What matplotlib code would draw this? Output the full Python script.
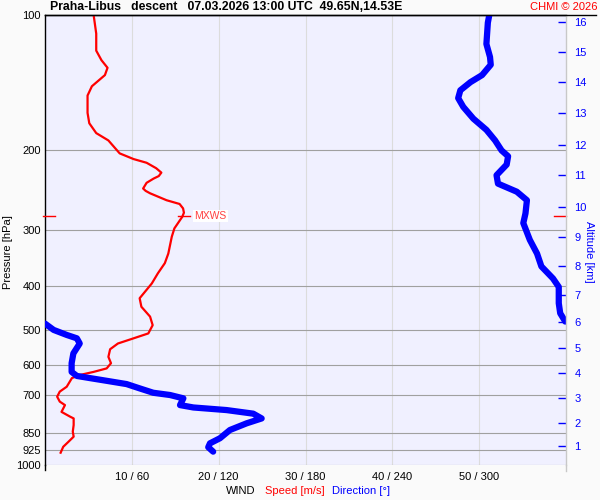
import matplotlib
matplotlib.use("Agg")
import matplotlib.pyplot as plt
from matplotlib.lines import Line2D
import matplotlib.transforms as mtransforms
import numpy as np

plt.rcParams['font.family'] = ['Liberation Sans', 'DejaVu Sans']

# ---- data ----
p_speed = [100, 110, 120, 126, 131, 136, 144, 151, 165, 174, 183, 190, 203, 209, 213,
           219, 224, 228, 231, 236, 243, 246, 249, 258, 263, 269, 275, 281, 298, 311, 339,
           356, 375, 395, 426, 445, 468, 489, 510, 523, 537, 553, 575, 594, 610, 621,
           631, 641, 670, 687, 705, 723, 736, 762, 781, 788, 815, 843, 865, 888, 911, 939]
speed = [5.6, 5.9, 5.9, 6.5, 7.2, 6.9, 5.4, 4.9, 4.9, 5.1, 5.9, 7.3, 8.6, 10.2, 11.7,
         12.8, 13.4, 13.1, 12.5, 11.7, 11.3, 11.6, 12.1, 14.0, 15.5, 15.9, 16.0, 15.8, 14.9, 14.6, 14.2,
         13.8, 13.0, 12.3, 10.9, 11.1, 12.1, 12.4, 11.9, 10.2, 8.4, 7.5, 7.3, 7.6, 7.1, 5.6,
         4.0, 3.1, 2.5, 1.7, 1.4, 1.7, 2.3, 1.9, 2.9, 3.3, 3.3, 3.2, 3.3, 2.7, 2.1, 1.8]

p_dir = [100, 104, 116, 124, 129, 136, 141, 147, 153, 160, 170, 180, 190, 200, 206,
         215, 227, 237, 247, 258, 276, 290, 316, 339, 362, 385, 402, 437, 460, 480,
         485, 501, 514, 523, 537, 565, 594, 621, 634, 641, 650, 661, 676, 691, 699,
         711, 736, 745, 755, 769, 788, 808, 836, 872, 895, 913, 934]
direction = [307, 306, 305, 307.5, 308, 302, 294, 287, 285.5, 289, 296, 305, 311, 315.5, 320,
             319, 312, 313, 326, 333, 332, 330.5, 335, 340, 343, 351, 355, 355, 356, 359.5,
             0, 6, 15, 22, 24, 19.6, 18.4, 18.4, 22, 31, 42.6, 56.4, 65.6, 74.8, 86.4,
             95.6, 93.3, 102.5, 125.5, 143.9, 149.7, 139.3, 127.8, 120.9, 114, 112.8, 116.2]

p_ticks = [100, 200, 300, 400, 500, 600, 700, 850, 925, 1000]
x_ticks = [10, 20, 30, 40, 50]
x_labels = ['10 / 60', '20 / 120', '30 / 180', '40 / 240', '50 / 300']
alt_km = list(range(1, 17))
alt_p = [907, 805, 708, 625, 550, 482, 420, 362, 312, 267, 227, 194, 165, 141, 120.7, 103.5]

mxws_p = 280
mxws_v = 16.0

title = 'Praha-Libus   descent   07.03.2026 13:00 UTC  49.65N,14.53E'

# ---- figure ----
W, H = 600, 500
fig = plt.figure(figsize=(6, 5), dpi=100, facecolor='#FAFAFA')
L, R, T, B = 45, 566, 15, 465
ax = fig.add_axes([L / W, 1 - B / H, (R - L) / W, (B - T) / H])
ax.set_facecolor('#F0F0FF')
ax.set_yscale('log')
ax.set_ylim(1000, 100)
ax.set_xlim(0, 60)
ax.yaxis.set_minor_locator(matplotlib.ticker.NullLocator())
ax.set_yticks(p_ticks)
ax.set_yticklabels([str(p) for p in p_ticks])
ax.set_xticks(x_ticks)
ax.set_xticklabels(x_labels)
ax.tick_params(axis='both', length=0, labelsize=8)
ax.tick_params(axis='y', pad=3)
ax.tick_params(axis='x', pad=5)
ax.set_axisbelow(True)
ax.xaxis.grid(True, color='#DCDCDC', linewidth=0.8)
ax.yaxis.grid(True, color='#A0A0A0', linewidth=0.8)
ax.spines['bottom'].set_visible(False)
ax.spines['right'].set_visible(False)
ax.spines['top'].set_color('black')
ax.spines['left'].set_color('black')
for s in ax.spines.values():
    s.set_linewidth(1.0)

# speed (red)
ax.plot(speed, p_speed, color='#FF0000', linewidth=1.6, zorder=3,
        solid_joinstyle='round')

# direction (blue) - split at wrap-around
d = np.array(direction, dtype=float)
pp = np.array(p_dir, dtype=float)
breaks = np.where(np.abs(np.diff(d)) > 180)[0] + 1
for seg_d, seg_p in zip(np.split(d, breaks), np.split(pp, breaks)):
    ax.plot(seg_d / 6.0, seg_p, color='#0000FF', linewidth=4.5,
            solid_capstyle='round', solid_joinstyle='round', zorder=4)

# MXWS markers
ax.plot([mxws_v - 0.7, mxws_v + 0.7], [mxws_p, mxws_p], color='#FF0000', linewidth=1.0, zorder=5)
trans = mtransforms.blended_transform_factory(ax.transAxes, ax.transData)
ax.plot([-0.004, 0.019], [mxws_p, mxws_p], color='#FF0000', linewidth=1.0,
        transform=trans, clip_on=False, zorder=5)
ax.plot([0.977, 1.0], [mxws_p, mxws_p], color='#FF0000', linewidth=1.0,
        transform=trans, clip_on=False, zorder=5)
ax.annotate('MXWS', xy=(mxws_v, mxws_p), xytext=(7.5, 0), textcoords='offset points',
            color='#FF4040', fontsize=7.5, va='center', ha='left',
            bbox=dict(boxstyle='square,pad=0.1', fc='white', ec='none'), zorder=6)

# altitude axis
ax2 = ax.twinx()
ax2.set_yscale('log')
ax2.set_ylim(1000, 100)
ax2.yaxis.set_minor_locator(matplotlib.ticker.NullLocator())
ax2.set_yticks(alt_p)
ax2.set_yticklabels([str(a) for a in alt_km])
ax2.tick_params(axis='y', direction='in', length=6, width=1.0, color='#0000FF',
                labelcolor='#0000FF', labelsize=8, pad=6)
for k in ['top', 'bottom', 'left']:
    ax2.spines[k].set_visible(False)
ax2.spines['right'].set_color('#C8C8C8')
ax2.spines['right'].set_linewidth(1.0)

# extra frame lines
fig.add_artist(Line2D([L / W, 596 / W], [1 - T / H, 1 - T / H], color='black', linewidth=1.0))
fig.add_artist(Line2D([L / W, L / W], [1 - B / H, 1 - 470 / H], color='black', linewidth=1.0))
fig.add_artist(Line2D([R / W, R / W], [1 - B / H, 1 - 471 / H], color='#C8C8C8', linewidth=1.0))

# texts
fig.text(50 / W, 1 - 7 / H, title, fontsize=8.8, fontweight='bold', va='center', ha='left')
fig.text(598 / W, 1 - 7 / H, 'CHMI © 2026', fontsize=8, color='#FF0000', va='center', ha='right')
fig.text(8 / W, 1 - 252 / H, 'Pressure [hPa]', fontsize=8, rotation=90, va='center', ha='center')
fig.text(589 / W, 1 - 252 / H, 'Altitude [km]', fontsize=8, rotation=270, va='center', ha='center',
         color='#0000FF')
fig.text(226 / W, 1 - 491 / H, 'WIND', fontsize=8, va='center', ha='left')
fig.text(265 / W, 1 - 491 / H, 'Speed [m/s]', fontsize=8, va='center', ha='left', color='#FF0000')
fig.text(332 / W, 1 - 491 / H, 'Direction [°]', fontsize=8, va='center', ha='left', color='#0000FF')

fig.savefig('out.png', dpi=100, facecolor=fig.get_facecolor())
